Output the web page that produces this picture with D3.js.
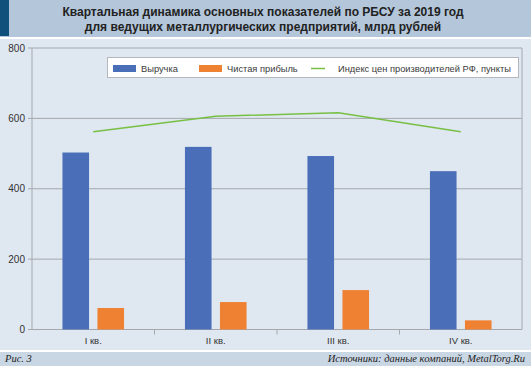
<!DOCTYPE html>
<html>
<head>
<meta charset="utf-8">
<script src="https://cdn.jsdelivr.net/npm/d3@7"></script>
<style>
  body { margin: 0; background: #ffffff; }
  svg { display: block; font-family: "Liberation Sans", Arial, sans-serif; }
</style>
</head>
<body>
<div id="chart-container"></div>
<script>
// data
var quarters = ["I кв.", "II кв.", "III кв.", "IV кв."];
var revenue = [503, 519, 493, 450];
var netProfit = [61, 78, 112, 26];
var priceIndex = [562, 606, 616, 562];
var yTicks = [0, 200, 400, 600, 800];
var seriesNames = ["Выручка", "Чистая прибыль", "Индекс цен производителей РФ, пункты"];

var width = 531;
var height = 366;

var svg = d3.select("#chart-container").append("svg")
  .attr("width", width)
  .attr("height", height);

// background bands
svg.append("rect").attr("x", 0).attr("y", 0).attr("width", width).attr("height", 37).attr("fill", "#b3c6da");
svg.append("rect").attr("x", 0).attr("y", 0).attr("width", 9).attr("height", 36).attr("fill", "#0f507c");
svg.append("rect").attr("x", 0).attr("y", 39).attr("width", width).attr("height", 311).attr("fill", "#dfe7f0");
svg.append("rect").attr("x", 0).attr("y", 352).attr("width", width).attr("height", 14).attr("fill", "#c9d6e4");

// title
var title = svg.append("text")
  .attr("text-anchor", "middle")
  .style("font-size", "12px")
  .style("font-weight", "bold")
  .attr("fill", "#222");
title.append("tspan").attr("x", 263).attr("y", 16)
  .text("Квартальная динамика основных показателей по РБСУ за 2019 год");
title.append("tspan").attr("x", 263).attr("y", 31)
  .text("для ведущих металлургических предприятий, млрд рублей");

// footer
svg.append("text")
  .attr("x", 5).attr("y", 362)
  .style("font-family", "'Liberation Serif', 'DejaVu Serif', serif")
  .style("font-style", "italic")
  .style("font-size", "10.5px")
  .attr("fill", "#222")
  .text("Рис. 3");
svg.append("text")
  .attr("x", 525).attr("y", 362)
  .attr("text-anchor", "end")
  .style("font-family", "'Liberation Serif', 'DejaVu Serif', serif")
  .style("font-style", "italic")
  .style("font-size", "10.5px")
  .attr("fill", "#222")
  .text("Источники: данные компаний, MetalTorg.Ru");

// scales
var plotLeft = 32, plotRight = 522, plotBottom = 329.5, plotTop = 48;

var x = d3.scaleBand()
  .domain(quarters)
  .range([plotLeft, plotRight]);

var xInner = d3.scaleBand()
  .domain([0, 1])
  .range([0, x.bandwidth()])
  .paddingInner(0.24)
  .paddingOuter(0.87);

var y = d3.scaleLinear()
  .domain([0, 800])
  .range([plotBottom, plotTop]);

var gridColor = "#a5a9ae";

// gridlines
svg.append("g").selectAll("line")
  .data(yTicks)
  .enter().append("line")
  .attr("x1", plotLeft - 4)
  .attr("x2", plotRight)
  .attr("y1", d => y(d))
  .attr("y2", d => y(d))
  .style("stroke", gridColor)
  .style("stroke-width", 1);

// frame
svg.append("line")
  .attr("x1", plotLeft).attr("x2", plotLeft)
  .attr("y1", y(800)).attr("y2", plotBottom)
  .style("stroke", gridColor);
svg.append("line")
  .attr("x1", plotRight).attr("x2", plotRight)
  .attr("y1", y(800)).attr("y2", plotBottom)
  .style("stroke", gridColor);

// y tick labels
svg.append("g").selectAll("text")
  .data(yTicks)
  .enter().append("text")
  .attr("x", 25)
  .attr("y", d => y(d) + 3.5)
  .attr("text-anchor", "end")
  .style("font-size", "10px")
  .attr("fill", "#333")
  .text(d => d);

// x ticks between categories
var xTickPos = quarters.slice(1).map(q => x(q));
svg.append("g").selectAll("line")
  .data(xTickPos)
  .enter().append("line")
  .attr("x1", d => d).attr("x2", d => d)
  .attr("y1", plotBottom).attr("y2", plotBottom + 5)
  .style("stroke", gridColor);

// x labels
svg.append("g").selectAll("text")
  .data(quarters)
  .enter().append("text")
  .attr("x", d => x(d) + x.bandwidth() / 2)
  .attr("y", 344)
  .attr("text-anchor", "middle")
  .style("font-size", "9.5px")
  .attr("fill", "#333")
  .text(d => d);

// bars
var barColors = ["#4a6fb8", "#ef8133"];
var barSeries = [revenue, netProfit];

barSeries.forEach(function (values, si) {
  svg.append("g").selectAll("rect")
    .data(values)
    .enter().append("rect")
    .attr("x", (d, i) => x(quarters[i]) + xInner(si))
    .attr("y", d => y(d))
    .attr("width", xInner.bandwidth())
    .attr("height", d => plotBottom - y(d))
    .attr("fill", barColors[si]);
});

// price index line
var line = d3.line()
  .x((d, i) => x(quarters[i]) + x.bandwidth() / 2)
  .y(d => y(d));

svg.append("path")
  .datum(priceIndex)
  .attr("d", line)
  .attr("fill", "none")
  .style("stroke", "#78c044")
  .style("stroke-width", 1.5);

// legend
var legend = svg.append("g");
legend.append("rect")
  .attr("x", 107.5).attr("y", 57.5)
  .attr("width", 411).attr("height", 20)
  .attr("fill", "#ffffff")
  .style("stroke", "#b4b8bd");

legend.append("rect").attr("x", 113).attr("y", 65).attr("width", 23).attr("height", 7).attr("fill", barColors[0]);
legend.append("rect").attr("x", 199).attr("y", 65).attr("width", 23).attr("height", 7).attr("fill", barColors[1]);
legend.append("line")
  .attr("x1", 311).attr("x2", 325).attr("y1", 68.5).attr("y2", 68.5)
  .style("stroke", "#78c044").style("stroke-width", 1.5);

var legendX = [141, 227, 338];
legend.selectAll("text")
  .data(seriesNames)
  .enter().append("text")
  .attr("x", (d, i) => legendX[i])
  .attr("y", 72)
  .style("font-size", "9.3px")
  .attr("fill", "#3a3a3a")
  .text(d => d);
</script>
</body>
</html>
